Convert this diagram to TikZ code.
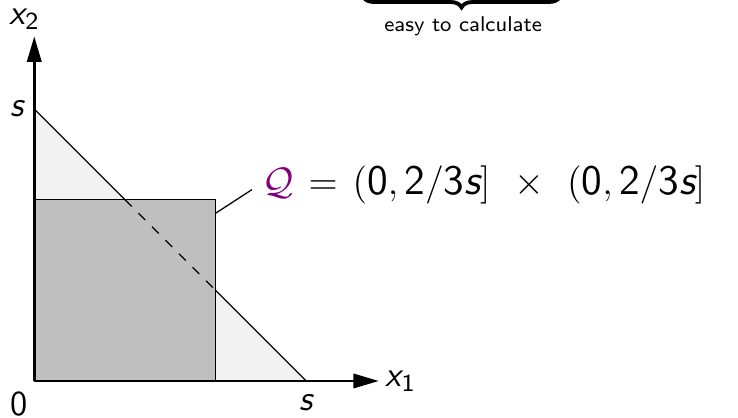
\documentclass[tikz,border=0pt]{standalone}
\usepackage{amsmath,amssymb}
\usepackage{xcolor}
\usepackage{tikz}
\usetikzlibrary{arrows.meta,positioning,decorations.pathreplacing}
\renewcommand{\familydefault}{\sfdefault}
\definecolor{qviolet}{RGB}{128,0,128}
\tikzset{
  axis/.style={thick, -{Triangle[length=8pt, width=4.5pt]}},
  axlabel/.style={font=\fontsize{11}{13}\selectfont, inner sep=2pt},
  simplex/.style={fill=gray!10},
  cube/.style={fill=gray!50, draw=black, line width=0.4pt},
  eqlabel/.style={font=\fontsize{13.2}{16}\selectfont, anchor=west, inner sep=2pt},
  smalllabel/.style={font=\fontsize{6.7}{8}\selectfont, inner sep=2pt},
  bracepath/.style={decorate, decoration={brace, mirror, amplitude=0.12cm}, line width=1.2pt},
}
\newcommand{\Qset}{\textcolor{qviolet}{\mathcal{Q}}}
\newcommand{\vx}[1]{\textsf{\slshape #1}}
\newcommand{\nm}[1]{\textsf{#1}}

\begin{document}
\begin{tikzpicture}
  \useasboundingbox (-0.378,-0.408) rectangle (7.762,4.202);
  \clip (-0.378,-0.408) rectangle (7.762,4.202);

  % corners
  \coordinate (O) at (0,0);
  \coordinate (S1) at (3,0);
  \coordinate (S2) at (0,3);
  \coordinate (C) at (2,2);
  \coordinate (P) at (1,2);
  \coordinate (R) at (2,1);
  \coordinate (X) at (3.8,0);
  \coordinate (Y) at (0,3.8);

  % simplex and box
  \fill[simplex] (O) -- (S1) -- (S2) -- cycle;
  \draw[cube] (O) rectangle (C);
  \draw (S2) -- (P);
  \draw[dashed] (P) -- (R);
  \draw (R) -- (S1);

  % axes
  \draw[axis] (O) -- (X);
  \draw[axis] (O) -- (Y);
  \node[axlabel, right] (x1lab) at (X) {$\vx{x}_{\nm{1}}$};
  \node[axlabel, above, xshift=-3pt] (x2lab) at (Y) {$\vx{x}_{\nm{2}}$};
  \node[axlabel, below=2pt] (s1lab) at (S1) {$\vx{s}$};
  \node[axlabel, left=1pt] (s2lab) at (S2) {$\vx{s}$};
  \node[axlabel, anchor=north east] (olab) at (0,-0.04) {$\nm{0}$};

  % label of the box
  \coordinate (Qpt) at (2,1.85);
  \coordinate (Qend) at (2.40,2.11);
  \draw (Qpt) -- (Qend);
  \node[eqlabel] (Qlab) at (2.44,2.16)
    {$\Qset \mkern2mu=\mkern2mu (\nm{0}, \nm{2}/\nm{3}\vx{s}] \mkern7mu\times\mkern7mu (\nm{0}, \nm{2}/\nm{3}\vx{s}]$};

  % brace at the top
  \coordinate (BL) at (3.626,4.24);
  \coordinate (BR) at (5.80,4.24);
  \draw[bracepath] (BL) -- (BR);
  \node[smalllabel, below] (easylab) at (4.73,4.10) {easy to calculate};
\end{tikzpicture}
\end{document}
